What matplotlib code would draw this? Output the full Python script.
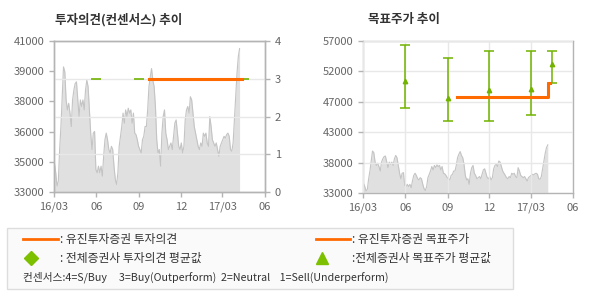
import numpy as np
import pandas as pd
import matplotlib
matplotlib.use("Agg")
import matplotlib.pyplot as plt
from matplotlib.lines import Line2D
from matplotlib.patches import Rectangle

plt.rcParams['font.family'] = ['Noto Sans CJK KR', 'DejaVu Sans']

# daily close, 2016-03 .. 2017-04
price = [34540, 34020, 33320, 33580, 35250, 36470, 38050, 39630, 39370, 37880,
         37350, 37700, 37180, 36470, 37880, 38400, 38750, 38840, 37880, 37000,
         37880, 37530, 37880, 37350, 38400, 38930, 38580, 37350, 36120, 35250,
         36120, 36210, 34190, 34020, 34370, 34020, 34370, 33840, 34890, 35770,
         36120, 35770, 35250, 35070, 35420, 35250, 34370, 33670, 33400, 34020,
         35420, 35950, 36470, 37180, 36650, 37350, 37000, 37440, 37180, 37350,
         36650, 37180, 36120, 36040, 35770, 35420, 35250, 35070, 35770, 35950,
         36470, 36470, 37350, 38580, 39110, 39540, 38930, 38580, 37530, 35770,
         35070, 35250, 34370, 36120, 37000, 37350, 36120, 35770, 35250, 35420,
         35600, 35250, 35950, 36650, 36820, 36120, 35420, 35250, 35600, 35070,
         35420, 36820, 37350, 37530, 37180, 38050, 37880, 37180, 36470, 36120,
         35770, 35420, 35250, 35600, 35420, 36120, 35950, 36120, 35600, 35420,
         37000, 36470, 35770, 35600, 35420, 35600, 35250, 34890, 35420, 35600,
         35770, 35950, 35860, 36040, 36120, 35950, 35250, 35160, 35600, 36820,
         38050, 39280, 40160, 40600]
price_start = "2016-03-02"
price_end = "2017-04-07"

# Eugene opinion / target price
own_dates = ["2016-09-22", "2017-04-07", "2017-04-07", "2017-04-12"]
own_opinion = [3, 3, 3, 3]
own_target = [48200, 48200, 50300, 50300]

# consensus (all brokers)
cons_dates = ["2016-06-01", "2016-09-01", "2016-12-01", "2017-03-01", "2017-04-16"]
cons_opinion = [3, 3, 3, 3, 3]
cons_mean = [50700, 48000, 49300, 49400, 53300]
cons_high = [56300, 54300, 55400, 55400, 55400]
cons_low = [46400, 44300, 44300, 45300, 50300]

xtick_dates = ["2016-03-01", "2016-06-01", "2016-09-01", "2016-12-01", "2017-03-01", "2017-06-01"]
xtick_labels = ["16/03", "06", "09", "12", "17/03", "06"]
left_ticklabels = ["33000", "35000", "36000", "38000", "39000", "41000"]
right_ticklabels = ["33000", "38000", "43000", "47000", "52000", "57000"]

ORANGE = "#ff6a00"
GREEN = "#72b300"
GRID = "#e8e8e8"
SPINE = "#b4b4b4"
TXT = "#666666"

pdates = pd.date_range(price_start, price_end, periods=len(price))
xt = pd.to_datetime(xtick_dates)
xlim = (xt[0], xt[-1])

fig = plt.figure(figsize=(5.9, 3.0), dpi=100)


def style(ax):
    for s in ax.spines.values():
        s.set_color(SPINE)
        s.set_linewidth(1)
    ax.tick_params(colors=SPINE, labelcolor=TXT, labelsize=8, length=3.5, width=1)
    ax.set_xlim(*xlim)
    ax.set_xticks(xt)
    ax.set_xticklabels(xtick_labels)


# ---------- left: opinion ----------
ax = fig.add_axes([0.0915, 0.36, 0.3576, 0.5033])
ax.fill_between(pdates, price, 33000, color="#e0e0e0", lw=0, zorder=1)
ax.plot(pdates, price, color="#c4c4c4", lw=0.8, zorder=1.5)
ax.set_ylim(33000, 41000)
ax.set_yticks(np.linspace(33000, 41000, 6))
ax.set_yticklabels(left_ticklabels)
style(ax)

ax2 = ax.twinx()
ax2.set_ylim(0, 4)
ax2.set_yticks([0, 1, 2, 3, 4])
style(ax2)
ax2.grid(True, color=GRID, lw=1)
ax2.plot(pd.to_datetime(cons_dates), cons_opinion, ls="none", marker="_",
         ms=7, mew=1.2, color=GREEN, zorder=3)
ax2.plot(pd.to_datetime(own_dates), own_opinion, color=ORANGE, lw=2.2, zorder=4)
fig.text(0.093, 0.935, "투자의견(컨센서스) 추이", fontsize=9, fontweight="bold",
         color="#333333", va="center")

# ---------- right: target price ----------
bx = fig.add_axes([0.6153, 0.3567, 0.356, 0.5067])
bx.fill_between(pdates, price, 33000, color="#e0e0e0", lw=0, zorder=1)
bx.plot(pdates, price, color="#c4c4c4", lw=0.8, zorder=1.5)
bx.set_ylim(33000, 57000)
bx.set_yticks(np.linspace(33000, 57000, 6))
bx.set_yticklabels(right_ticklabels)
style(bx)
bx.set_axisbelow(False)
bx.grid(True, color=GRID, lw=1, zorder=2)
cd = pd.to_datetime(cons_dates)
m = np.array(cons_mean)
bx.errorbar(cd, m, yerr=[m - np.array(cons_low), np.array(cons_high) - m],
            fmt="none", ecolor=GREEN, elinewidth=1.1, capsize=3.3, capthick=1.1, zorder=3)
bx.plot(cd, m, ls="none", marker="^", ms=3.2, color=GREEN, zorder=3.5)
bx.plot(pd.to_datetime(own_dates), own_target, color=ORANGE, lw=2.2, zorder=4)
fig.text(0.623, 0.935, "목표주가 추이", fontsize=9, fontweight="bold",
         color="#333333", va="center")

# ---------- legend box ----------
fig.patches.append(Rectangle((0.012, 0.037), 0.858, 0.203, transform=fig.transFigure,
                             facecolor="#fafafa", edgecolor="#dddddd", lw=1))
ly1, ly2, ly3 = 0.203, 0.14, 0.077
fig.add_artist(Line2D([0.039, 0.098], [ly1, ly1], color=ORANGE, lw=2))
fig.add_artist(Line2D([0.536, 0.594], [ly1, ly1], color=ORANGE, lw=2))
fig.add_artist(Line2D([0.053], [ly2], marker="D", ms=7.5, color="#7cc000", ls="none"))
fig.add_artist(Line2D([0.546], [ly2], marker="^", ms=8, color="#7cc000", ls="none"))
lt = dict(fontsize=8.5, color="#333333", va="center")
fig.text(0.101, ly1, ": 유진투자증권 투자의견", **lt)
fig.text(0.597, ly1, ": 유진투자증권 목표주가", **lt)
fig.text(0.101, ly2, ": 전체증권사 투자의견 평균값", **lt)
fig.text(0.597, ly2, ":전체증권사 목표주가 평균값", **lt)
fig.text(0.039, ly3, "컨센서스:4=S/Buy     3=Buy(Outperform)  2=Neutral    1=Sell(Underperform)",
         fontsize=7.7, color="#333333", va="center")

fig.savefig("out.png", dpi=100)
